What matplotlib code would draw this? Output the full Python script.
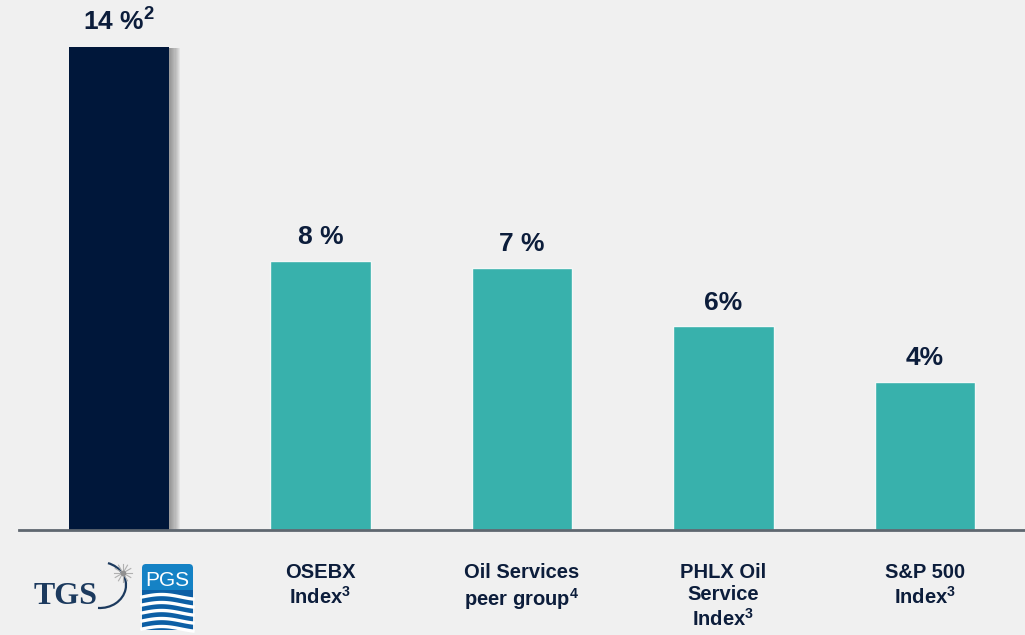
import numpy as np
import matplotlib
matplotlib.use('Agg')
import matplotlib.pyplot as plt
from matplotlib import patheffects as pe
from matplotlib.patches import Rectangle, Arc, FancyBboxPatch

# bold sans in mathtext so superscripts match the labels
plt.rcParams['mathtext.fontset'] = 'custom'
plt.rcParams['mathtext.rm'] = 'Liberation Sans:bold'
plt.rcParams['mathtext.it'] = 'Liberation Sans:bold'
plt.rcParams['mathtext.bf'] = 'Liberation Sans:bold'

# data
categories = ['TGS + PGS', 'OSEBX\nIndex$^3$', 'Oil Services\npeer group$^4$',
              'PHLX Oil\nService\nIndex$^3$', 'S&P 500\nIndex$^3$']
values = [14.0, 7.8, 7.6, 5.9, 4.3]
value_labels = ['14 %$^2$', '8 %', '7 %', '6%', '4%']
bar_colors = ['#00173a', '#38b1ac', '#38b1ac', '#38b1ac', '#38b1ac']

BG = '#f0f0f0'
TXT = '#0c1d3b'
FONT = ['Liberation Sans', 'DejaVu Sans']

fig = plt.figure(figsize=(10.25, 6.35), dpi=100, facecolor=BG)
ax = fig.add_axes([0, 105 / 635, 1, 530 / 635])
ax.set_facecolor(BG)
x = np.arange(len(values))
ax.set_xlim(-119 / 201.5, (1025 - 119) / 201.5)
ax.set_ylim(0, 14 * 530 / 483)
for s in ax.spines.values():
    s.set_visible(False)
ax.set_xticks([])
ax.set_yticks([])

# soft shadow for the highlighted bar
shadow = [pe.SimplePatchShadow(offset=(k, -0.5), shadow_rgbFace='#555555', alpha=0.08)
          for k in np.linspace(1, 8, 9)] + [pe.Normal()]

bars = ax.bar(x, values, width=0.5, color=bar_colors, zorder=2)
for i, b in enumerate(bars):
    if i == 0:
        b.set_path_effects(shadow)
        b.set_edgecolor('none')
    else:
        b.set_edgecolor('#f4f7f7')
        b.set_linewidth(1.0)

for xi, v, lab in zip(x, values, value_labels):
    ax.annotate(lab, (xi, v), xytext=(0, 12), textcoords='offset points',
                ha='center', va='baseline', fontsize=19, fontweight='bold',
                color=TXT, family=FONT)

ax.axhline(0, xmin=19 / 1025, xmax=1, color='#5f6770', lw=2, zorder=3, clip_on=False)

for xi, cat in zip(x[1:], categories[1:]):
    ax.text(xi, -33 / 34.5, cat, ha='center', va='top', fontsize=14.5,
            fontweight='bold', color=TXT, family=FONT, linespacing=1.2,
            clip_on=False)

# logo for the first category, drawn in pixel coordinates
lg = fig.add_axes([0, 0, 1, 1], zorder=5)
lg.set_xlim(0, 1025)
lg.set_ylim(635, 0)
lg.axis('off')
lg.patch.set_alpha(0)

lg.text(34, 604, 'TGS', fontsize=23, fontweight='bold', color='#1c3a5e',
        family=['Liberation Serif', 'DejaVu Serif'], ha='left', va='baseline')
lg.add_patch(Arc((100, 585), 52, 46, theta1=-70, theta2=95, lw=1.6, color='#1c3a5e'))
for ang in range(0, 180, 30):
    t = np.deg2rad(ang)
    lg.plot([123 - 9 * np.cos(t), 123 + 9 * np.cos(t)],
            [573 - 9 * np.sin(t), 573 + 9 * np.sin(t)], color='#b0b0b0', lw=0.8)
lg.plot([123], [573], marker='o', ms=3, color='#909090')

lg.add_patch(FancyBboxPatch((142, 564), 51, 66, boxstyle='round,pad=0,rounding_size=4',
                            fc='#1582c5', ec='none'))
lg.add_patch(Rectangle((142, 590), 51, 40, fc='#0d5fa5', ec='none'))
lg.text(167.5, 581, 'PGS', fontsize=15, color='white', ha='center', va='center',
        family=FONT)
xx = np.linspace(142, 193, 60)
for y0 in [597, 605, 613, 621, 629]:
    lg.plot(xx, y0 - 2.5 * np.sin((xx - 142) / 51 * np.pi * 1.3), color='white', lw=2.4)

fig.savefig('out.png', dpi=100, facecolor=BG)
